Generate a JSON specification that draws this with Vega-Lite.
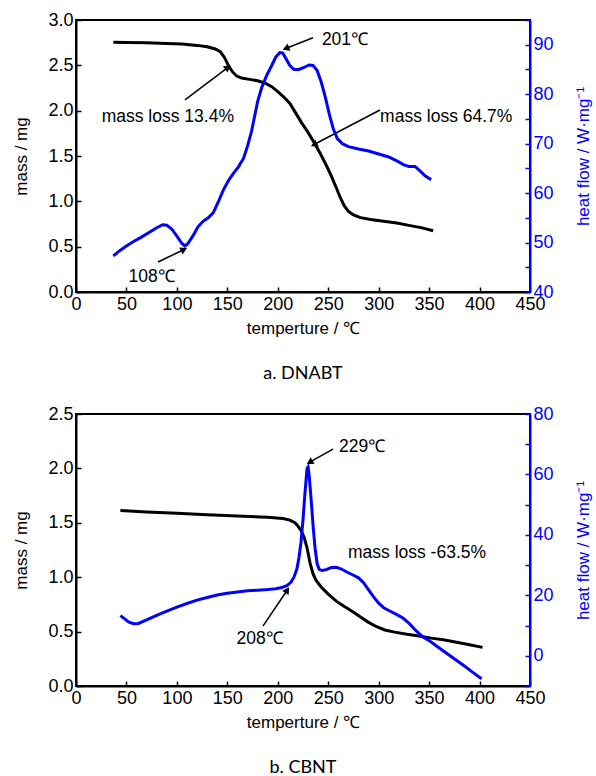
{
  "$schema": "https://vega.github.io/schema/vega-lite/v6.json",
  "background": "white",
  "padding": {"left": 11, "top": 10, "right": 0, "bottom": 0},
  "spacing": 20,
  "datasets": {
    "a_mass": [
      {"T":37,"mass":2.755},{"T":50,"mass":2.752},{"T":70,"mass":2.748},{"T":90,"mass":2.742},{"T":105,"mass":2.735},{"T":120,"mass":2.72},{"T":130,"mass":2.705},{"T":138,"mass":2.68},{"T":143,"mass":2.65},{"T":147,"mass":2.59},{"T":151,"mass":2.5},{"T":155,"mass":2.43},{"T":159,"mass":2.385},{"T":164,"mass":2.36},{"T":172,"mass":2.345},{"T":180,"mass":2.33},{"T":187,"mass":2.305},{"T":194,"mass":2.265},{"T":200,"mass":2.21},{"T":206,"mass":2.15},{"T":212,"mass":2.08},{"T":218,"mass":1.97},{"T":224,"mass":1.86},{"T":230,"mass":1.76},{"T":236,"mass":1.65},{"T":242,"mass":1.53},{"T":248,"mass":1.4},{"T":253,"mass":1.28},{"T":258,"mass":1.15},{"T":262,"mass":1.04},{"T":266,"mass":0.95},{"T":270,"mass":0.89},{"T":275,"mass":0.85},{"T":282,"mass":0.82},{"T":292,"mass":0.8},{"T":305,"mass":0.78},{"T":318,"mass":0.76},{"T":330,"mass":0.735},{"T":342,"mass":0.71},{"T":354,"mass":0.675}
    ],
    "a_heat": [
      {"T":37,"heat":47.3},{"T":43,"heat":48.3},{"T":50,"heat":49.3},{"T":57,"heat":50.2},{"T":64,"heat":51},{"T":72,"heat":52},{"T":80,"heat":53},{"T":86,"heat":53.6},{"T":90,"heat":53.5},{"T":95,"heat":52.7},{"T":100,"heat":51.3},{"T":105,"heat":49.8},{"T":108,"heat":49.3},{"T":111,"heat":49.8},{"T":116,"heat":51.4},{"T":121,"heat":53.2},{"T":126,"heat":54.3},{"T":131,"heat":55},{"T":136,"heat":56},{"T":141,"heat":58.2},{"T":146,"heat":60.6},{"T":151,"heat":62.5},{"T":156,"heat":64},{"T":161,"heat":65.3},{"T":166,"heat":67},{"T":170,"heat":69.5},{"T":174,"heat":72.5},{"T":177,"heat":75.5},{"T":180,"heat":78.5},{"T":184,"heat":81.3},{"T":189,"heat":83.8},{"T":194,"heat":85.8},{"T":198,"heat":87.5},{"T":202,"heat":88.4},{"T":205,"heat":88.3},{"T":208,"heat":87.2},{"T":212,"heat":85.8},{"T":216,"heat":85},{"T":221,"heat":85},{"T":226,"heat":85.4},{"T":231,"heat":85.9},{"T":235,"heat":85.8},{"T":239,"heat":84.8},{"T":243,"heat":82.5},{"T":247,"heat":79.5},{"T":251,"heat":76},{"T":255,"heat":73},{"T":259,"heat":71},{"T":264,"heat":70},{"T":270,"heat":69.4},{"T":280,"heat":68.9},{"T":290,"heat":68.5},{"T":300,"heat":67.9},{"T":310,"heat":67.3},{"T":318,"heat":66.5},{"T":325,"heat":65.7},{"T":330,"heat":65.4},{"T":336,"heat":65.4},{"T":341,"heat":64.5},{"T":346,"heat":63.5},{"T":352,"heat":62.7}
    ],
    "b_mass": [
      {"T":44,"mass":1.612},{"T":70,"mass":1.6},{"T":100,"mass":1.588},{"T":130,"mass":1.575},{"T":160,"mass":1.563},{"T":190,"mass":1.55},{"T":205,"mass":1.54},{"T":212,"mass":1.525},{"T":217,"mass":1.5},{"T":220,"mass":1.47},{"T":223,"mass":1.43},{"T":226,"mass":1.37},{"T":229,"mass":1.27},{"T":232,"mass":1.13},{"T":235,"mass":1.03},{"T":238,"mass":0.97},{"T":243,"mass":0.91},{"T":250,"mass":0.845},{"T":258,"mass":0.78},{"T":266,"mass":0.73},{"T":274,"mass":0.685},{"T":282,"mass":0.635},{"T":290,"mass":0.585},{"T":298,"mass":0.545},{"T":306,"mass":0.515},{"T":316,"mass":0.495},{"T":328,"mass":0.475},{"T":340,"mass":0.46},{"T":352,"mass":0.44},{"T":364,"mass":0.425},{"T":376,"mass":0.405},{"T":390,"mass":0.38},{"T":403,"mass":0.355}
    ],
    "b_heat": [
      {"T":44,"heat":13.3},{"T":48,"heat":12.3},{"T":52,"heat":11.2},{"T":57,"heat":10.6},{"T":62,"heat":10.7},{"T":70,"heat":11.9},{"T":80,"heat":13.4},{"T":90,"heat":14.8},{"T":100,"heat":16.1},{"T":110,"heat":17.3},{"T":120,"heat":18.4},{"T":130,"heat":19.3},{"T":140,"heat":20.1},{"T":150,"heat":20.7},{"T":160,"heat":21.1},{"T":170,"heat":21.5},{"T":180,"heat":21.7},{"T":190,"heat":21.9},{"T":198,"heat":22.2},{"T":204,"heat":22.6},{"T":209,"heat":23.2},{"T":213,"heat":24.3},{"T":216,"heat":26},{"T":219,"heat":28.8},{"T":221,"heat":32.5},{"T":223,"heat":37.5},{"T":225,"heat":45},{"T":227,"heat":54},{"T":229,"heat":62},{"T":230,"heat":62.5},{"T":231,"heat":60},{"T":233,"heat":52},{"T":235,"heat":43},{"T":237,"heat":35.5},{"T":239,"heat":30.5},{"T":241,"heat":28.6},{"T":244,"heat":28.2},{"T":248,"heat":28.5},{"T":253,"heat":29.2},{"T":258,"heat":29.3},{"T":263,"heat":28.7},{"T":268,"heat":27.8},{"T":274,"heat":26.8},{"T":280,"heat":25.8},{"T":285,"heat":24.2},{"T":290,"heat":21.8},{"T":295,"heat":19.5},{"T":300,"heat":17.4},{"T":305,"heat":15.9},{"T":311,"heat":14.8},{"T":318,"heat":13.6},{"T":324,"heat":12.5},{"T":330,"heat":10.8},{"T":337,"heat":8.3},{"T":344,"heat":6.2},{"T":351,"heat":4.8},{"T":360,"heat":2.6},{"T":368,"heat":0.7},{"T":377,"heat":-1.5},{"T":385,"heat":-3.4},{"T":393,"heat":-5.4},{"T":402,"heat":-7.6}
    ],
    "a_text": [
      {"T":266.6,"mass":2.78,"label":"201℃"},
      {"T":91,"mass":1.93,"label":"mass loss 13.4%"},
      {"T":367,"mass":1.93,"label":"mass loss 64.7%"},
      {"T":75,"mass":0.165,"label":"108℃"}
    ],
    "a_arrows": [
      {"T":234.9,"mass":2.805,"T2":209.1,"mass2":2.691},
      {"T":108,"mass":2.118,"T2":149.7,"mass2":2.47},
      {"T":301.3,"mass":2.007,"T2":236.9,"mass2":1.632},
      {"T":81.3,"mass":0.331,"T2":106,"mass2":0.463}
    ],
    "b_text": [
      {"T":283.5,"mass":2.2,"label":"229℃"},
      {"T":182,"mass":0.43,"label":"208℃"},
      {"T":338,"mass":1.225,"label":"mass loss -63.5%"}
    ],
    "b_arrows": [
      {"T":254.7,"mass":2.178,"T2":232.6,"mass2":2.062},
      {"T":185.3,"mass":0.551,"T2":208.8,"mass2":0.873}
    ]
  },
  "config": {
    "view": {"stroke": "black", "strokeWidth": 2},
    "axis": {
      "labelFont": "Liberation Sans",
      "labelFontSize": 18,
      "titleFont": "Liberation Sans",
      "titleFontSize": 17,
      "titleFontWeight": "normal",
      "labelColor": "black",
      "titleColor": "black",
      "domainColor": "black",
      "domainWidth": 2,
      "tickColor": "black",
      "tickWidth": 1.5,
      "tickSize": -5,
      "grid": false,
      "labelFlush": false,
      "labelPadding": 8
    },
    "text": {"font": "Liberation Sans", "fontSize": 17.5, "color": "black"},
    "title": {"font": "Lato", "fontSize": 18, "fontWeight": "normal", "color": "black"}
  },
  "vconcat": [
    {
      "width": 454,
      "height": 272,
      "title": {"text": "a.  DNABT", "orient": "bottom", "offset": 29},
      "layer": [
        {
          "layer": [
            {
              "data": {"name": "a_mass"},
              "mark": {"type": "line", "color": "black", "strokeWidth": 3},
              "encoding": {
                "x": {"field": "T", "type": "quantitative", "scale": {"domain": [0, 450], "nice": false},
                  "axis": {"title": "temperture / ℃", "values": [0,25,50,75,100,125,150,175,200,225,250,275,300,325,350,375,400,425,450], "labelExpr": "datum.value % 50 == 0 ? datum.label : ''", "titlePadding": 7}},
                "y": {"field": "mass", "type": "quantitative", "scale": {"domain": [0, 3], "nice": false},
                  "axis": {"title": "mass / mg", "format": ".1f", "values": [0,0.25,0.5,0.75,1,1.25,1.5,1.75,2,2.25,2.5,2.75,3], "labelExpr": "datum.value % 0.5 == 0 ? datum.label : ''", "titlePadding": 17}}
              }
            },
            {
              "data": {"name": "a_arrows"},
              "mark": {"type": "rule", "color": "black", "strokeWidth": 1.5},
              "encoding": {
                "x": {"field": "T", "type": "quantitative"},
                "y": {"field": "mass", "type": "quantitative"},
                "x2": {"field": "T2"},
                "y2": {"field": "mass2"}
              }
            },
            {
              "data": {"values": [{"T": 209.1, "mass": 2.691}]},
              "mark": {"type": "point", "shape": "triangle", "filled": true, "color": "black", "size": 60, "angle": 248, "opacity": 1},
              "encoding": {"x": {"field": "T", "type": "quantitative"}, "y": {"field": "mass", "type": "quantitative"}}
            },
            {
              "data": {"values": [{"T": 149.7, "mass": 2.47}]},
              "mark": {"type": "point", "shape": "triangle", "filled": true, "color": "black", "size": 60, "angle": 53, "opacity": 1},
              "encoding": {"x": {"field": "T", "type": "quantitative"}, "y": {"field": "mass", "type": "quantitative"}}
            },
            {
              "data": {"values": [{"T": 236.9, "mass": 1.632}]},
              "mark": {"type": "point", "shape": "triangle", "filled": true, "color": "black", "size": 60, "angle": 242, "opacity": 1},
              "encoding": {"x": {"field": "T", "type": "quantitative"}, "y": {"field": "mass", "type": "quantitative"}}
            },
            {
              "data": {"values": [{"T": 106, "mass": 0.463}]},
              "mark": {"type": "point", "shape": "triangle", "filled": true, "color": "black", "size": 60, "angle": 64, "opacity": 1},
              "encoding": {"x": {"field": "T", "type": "quantitative"}, "y": {"field": "mass", "type": "quantitative"}}
            },
            {
              "data": {"name": "a_text"},
              "mark": {"type": "text", "align": "center", "baseline": "middle"},
              "encoding": {
                "x": {"field": "T", "type": "quantitative"},
                "y": {"field": "mass", "type": "quantitative"},
                "text": {"field": "label"}
              }
            }
          ]
        },
        {
          "data": {"name": "a_heat"},
          "mark": {"type": "line", "color": "#0000ff", "strokeWidth": 3},
          "encoding": {
            "x": {"field": "T", "type": "quantitative"},
            "y": {"field": "heat", "type": "quantitative", "scale": {"domain": [40, 95], "nice": false},
              "axis": {"orient": "right", "title": "heat flow / W·mg⁻¹", "titleAngle": 270, "values": [40,45,50,55,60,65,70,75,80,85,90,95], "labelExpr": "datum.value % 10 == 0 ? datum.label : ''", "labelColor": "#0000ff", "titleColor": "#0000ff", "domainColor": "#0000ff", "tickColor": "#0000ff", "titlePadding": 39}}
          }
        }
      ],
      "resolve": {"scale": {"y": "independent"}}
    },
    {
      "width": 454,
      "height": 272,
      "title": {"text": "b.  CBNT", "orient": "bottom", "offset": 29},
      "layer": [
        {
          "layer": [
            {
              "data": {"name": "b_mass"},
              "mark": {"type": "line", "color": "black", "strokeWidth": 3},
              "encoding": {
                "x": {"field": "T", "type": "quantitative", "scale": {"domain": [0, 450], "nice": false},
                  "axis": {"title": "temperture / ℃", "values": [0,25,50,75,100,125,150,175,200,225,250,275,300,325,350,375,400,425,450], "labelExpr": "datum.value % 50 == 0 ? datum.label : ''", "titlePadding": 7}},
                "y": {"field": "mass", "type": "quantitative", "scale": {"domain": [0, 2.5], "nice": false},
                  "axis": {"title": "mass / mg", "format": ".1f", "values": [0,0.25,0.5,0.75,1,1.25,1.5,1.75,2,2.25,2.5], "labelExpr": "datum.value % 0.5 == 0 ? datum.label : ''", "titlePadding": 17}}
              }
            },
            {
              "data": {"name": "b_arrows"},
              "mark": {"type": "rule", "color": "black", "strokeWidth": 1.5},
              "encoding": {
                "x": {"field": "T", "type": "quantitative"},
                "y": {"field": "mass", "type": "quantitative"},
                "x2": {"field": "T2"},
                "y2": {"field": "mass2"}
              }
            },
            {
              "data": {"values": [{"T": 232.6, "mass": 2.062}]},
              "mark": {"type": "point", "shape": "triangle", "filled": true, "color": "black", "size": 60, "angle": 240, "opacity": 1},
              "encoding": {"x": {"field": "T", "type": "quantitative"}, "y": {"field": "mass", "type": "quantitative"}}
            },
            {
              "data": {"values": [{"T": 208.8, "mass": 0.873}]},
              "mark": {"type": "point", "shape": "triangle", "filled": true, "color": "black", "size": 60, "angle": 34, "opacity": 1},
              "encoding": {"x": {"field": "T", "type": "quantitative"}, "y": {"field": "mass", "type": "quantitative"}}
            },
            {
              "data": {"name": "b_text"},
              "mark": {"type": "text", "align": "center", "baseline": "middle"},
              "encoding": {
                "x": {"field": "T", "type": "quantitative"},
                "y": {"field": "mass", "type": "quantitative"},
                "text": {"field": "label"}
              }
            }
          ]
        },
        {
          "data": {"name": "b_heat"},
          "mark": {"type": "line", "color": "#0000ff", "strokeWidth": 3},
          "encoding": {
            "x": {"field": "T", "type": "quantitative"},
            "y": {"field": "heat", "type": "quantitative", "scale": {"domain": [-10, 80], "nice": false},
              "axis": {"orient": "right", "title": "heat flow / W·mg⁻¹", "titleAngle": 270, "values": [-10,0,10,20,30,40,50,60,70,80], "labelExpr": "datum.value % 20 == 0 ? datum.label : ''", "labelColor": "#0000ff", "titleColor": "#0000ff", "domainColor": "#0000ff", "tickColor": "#0000ff", "titlePadding": 39}}
          }
        }
      ],
      "resolve": {"scale": {"y": "independent"}}
    }
  ]
}
